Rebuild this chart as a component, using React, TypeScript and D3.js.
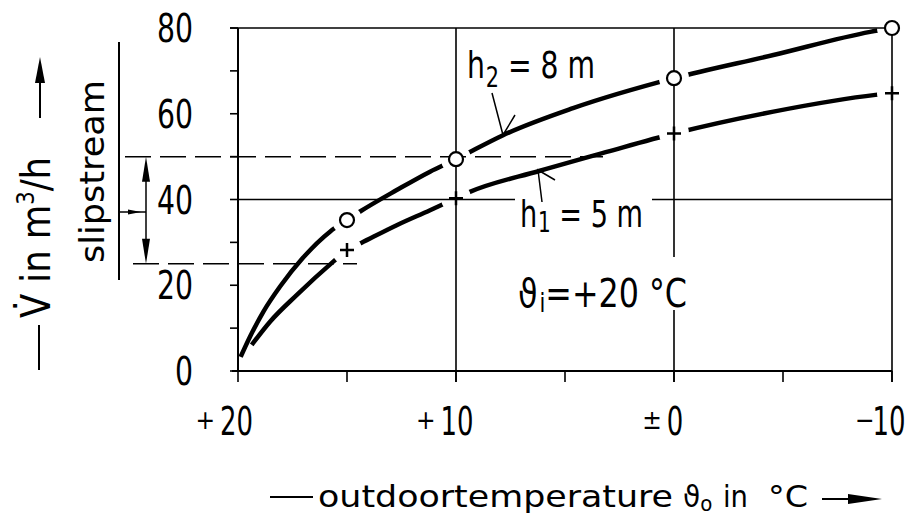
import React from "react";
import * as d3 from "d3";

// outdoor temperature (°C) against slipstream volume flow (m³/h)
const markerTemps = [15, 10, 0, -10];
const h2Markers = [35.2, 49.4, 68.3, 80];
const h1Markers = [28.2, 40.3, 55.4, 64.8];

// points
const h2Temps = [19.88, 19.45, 18.84, 18.07, 17.02, 15.78, 15, 14.4, 12.72, 11.19, 10, 9.36, 7.84, 4.63, 0, -4.56, -9.0, -10];
const h2Values = [3.3, 8.0, 13.8, 19.7, 26.4, 32.5, 35.2, 37.2, 42.2, 46.5, 49.4, 51.1, 55.0, 61.3, 68.3, 73.7, 79.1, 80];
const h1Temps = [19.37, 18.53, 17.31, 15.63, 15, 14.33, 12.72, 11.19, 10, 9.45, 6.15, 3.09, 0, -4.56, -9.24, -10];
const h1Values = [6.1, 11.5, 17.7, 25.5, 28.2, 29.9, 34.0, 37.5, 40.3, 41.6, 46.7, 51.1, 55.4, 60.5, 64.4, 64.8];

const xTicks = [20, 15, 10, 5, 0, -5, -10];
const xLabelTemps = [20, 10, 0, -10];
const xLabelSigns = ["+", "+", "±", "−"];
const xLabelNumbers = ["20", "10", "0", "10"];
const yTicks = [0, 10, 20, 30, 40, 50, 60, 70, 80];
const yLabelValues = [0, 20, 40, 60, 80];
const slipstreamRange = [25, 50];

const FONT = "'DejaVu Sans Condensed', 'DejaVu Sans', sans-serif";

export default function App() {
  const W = 910, H = 516;
  const x = d3.scaleLinear().domain([20, -10]).range([238, 892]);
  const y = d3.scaleLinear().domain([0, 80]).range([371, 28]);

  const line = d3
    .line<[number, number]>()
    .x((d) => x(d[0]))
    .y((d) => y(d[1]))
    .curve(d3.curveMonotoneX);

  const h2Path = line(h2Temps.map((t, i) => [t, h2Values[i]]));
  const h1Path = line(h1Temps.map((t, i) => [t, h1Values[i]]));

  const x0 = x(20), x1 = x(-10);
  const yTop = y(80), yBot = y(0);
  const lw = 1.6;
  const squeeze = { lengthAdjust: "spacingAndGlyphs" as const };

  // arrowhead helper (filled wedge)
  const head = (tx: number, ty: number, dir: "up" | "down" | "right", len: number, hw: number) => {
    if (dir === "up") return `M${tx},${ty} L${tx - hw},${ty + len} L${tx + hw},${ty + len} Z`;
    if (dir === "down") return `M${tx},${ty} L${tx - hw},${ty - len} L${tx + hw},${ty - len} Z`;
    return `M${tx},${ty} L${tx - len},${ty - hw} L${tx - len},${ty + hw} Z`;
  };

  const y50 = y(slipstreamRange[1]);
  const y25 = y(slipstreamRange[0]);

  // narrow figures: horizontal squeeze of the tick numbers
  const sx = 0.74;
  const numShift = [-1.5, 1, 1, -3];

  return (
    <svg
      width={W}
      height={H}
      style={{ position: "absolute", left: 0, top: 0, background: "#fff" }}
      fontFamily={FONT}
    >
      <defs>
        <mask id="m2" maskUnits="userSpaceOnUse" x={0} y={0} width={W} height={H}>
          <rect width={W} height={H} fill="#fff" />
          {markerTemps.map((t, i) => (
            <circle key={i} cx={x(t)} cy={y(h2Markers[i])} r={15} fill="#000" />
          ))}
        </mask>
        <mask id="m1" maskUnits="userSpaceOnUse" x={0} y={0} width={W} height={H}>
          <rect width={W} height={H} fill="#fff" />
          {markerTemps.map((t, i) => (
            <circle key={i} cx={x(t)} cy={y(h1Markers[i])} r={15} fill="#000" />
          ))}
        </mask>
      </defs>

      {/* curves */}
      <path d={h2Path || ""} fill="none" stroke="#000" strokeWidth={4.5} mask="url(#m2)" />
      <path d={h1Path || ""} fill="none" stroke="#000" strokeWidth={4.5} mask="url(#m1)" />

      {/* frame and grid */}
      <line x1={x0} x2={x0} y1={yTop} y2={yBot} stroke="#000" strokeWidth={2} />
      <line x1={232} x2={x1} y1={yBot} y2={yBot} stroke="#000" strokeWidth={2} />
      <line x1={230} x2={x1} y1={yTop} y2={yTop} stroke="#000" strokeWidth={lw} />
      <line x1={x1} x2={x1} y1={yTop} y2={yBot + 11} stroke="#000" strokeWidth={lw} />
      <line x1={x(10)} x2={x(10)} y1={yTop} y2={yBot + 11} stroke="#000" strokeWidth={lw} />
      <line x1={x(0)} x2={x(0)} y1={yTop} y2={257} stroke="#000" strokeWidth={lw} />
      <line x1={x(0)} x2={x(0)} y1={310} y2={yBot + 11} stroke="#000" strokeWidth={lw} />
      <line x1={x0} x2={515} y1={y(40)} y2={y(40)} stroke="#000" strokeWidth={lw} />
      <line x1={652} x2={x1} y1={y(40)} y2={y(40)} stroke="#000" strokeWidth={lw} />

      {/* ticks */}
      {xTicks.map((t) => (
        <line key={t} x1={x(t)} x2={x(t)} y1={yBot} y2={yBot + 11} stroke="#000" strokeWidth={lw} />
      ))}
      {yTicks.map((v) => (
        <line key={v} x1={230} x2={x0} y1={y(v)} y2={y(v)} stroke="#000" strokeWidth={lw} />
      ))}

      {/* tick labels */}
      {yLabelValues.map((v) => (
        <text
          key={v}
          x={193}
          y={y(v)}
          dy="0.36em"
          textAnchor="end"
          fontSize={39}
          textLength={String(v).length * 18}
          {...squeeze}
        >
          {v}
        </text>
      ))}
      {xLabelTemps.map((t, i) => {
        const cx = x(t) + numShift[i];
        const half = xLabelNumbers[i].length * 0.572 * 39 * sx * 0.5;
        return (
          <g key={t}>
            <text transform={`translate(${cx},435) scale(${sx},1)`} textAnchor="middle" fontSize={39}>
              {xLabelNumbers[i]}
            </text>
            <text x={cx - half - (i === 3 ? -2 : 5)} y={429} textAnchor="end" fontSize={26}>
              {xLabelSigns[i]}
            </text>
          </g>
        );
      })}

      {/* slipstream range */}
      <line x1={125} x2={603} y1={y50} y2={y50} stroke="#000" strokeWidth={1.5} strokeDasharray="26 9" />
      <line x1={133} x2={357} y1={y25} y2={y25} stroke="#000" strokeWidth={1.5} strokeDasharray="26 9" />
      <line x1={146} x2={146} y1={y50 + 10} y2={y25 - 10} stroke="#000" strokeWidth={1.5} />
      <path d={head(146, y50, "up", 25, 4)} fill="#000" />
      <path d={head(146, y25, "down", 25, 4)} fill="#000" />
      <line x1={119} x2={146} y1={212} y2={212} stroke="#000" strokeWidth={1.5} />
      <path d={head(141, 212, "right", 13, 2.5)} fill="#000" />
      <line x1={119} x2={119} y1={42} y2={280} stroke="#000" strokeWidth={2} />
      <text transform="translate(104,263) rotate(-90)" fontSize={34} textLength={183} {...squeeze}>
        slipstream
      </text>

      {/* y axis title */}
      <line x1={39} x2={39} y1={370} y2={325} stroke="#000" strokeWidth={2} />
      <text transform="translate(50,318) rotate(-90)" fontSize={40} textLength={161} {...squeeze}>
        {"V\u0307 in m"}
        <tspan dy={-16} fontSize={24}>3</tspan>
        <tspan dy={16}>/h</tspan>
      </text>
      <line x1={40} x2={40} y1={118} y2={80} stroke="#000" strokeWidth={2} />
      <path d={head(40, 57, "up", 26, 5)} fill="#000" />

      {/* x axis title */}
      <line x1={270} x2={313} y1={497} y2={497} stroke="#000" strokeWidth={2} />
      <text x={318} y={507} fontSize={31} textLength={355} {...squeeze}>
        outdoortemperature
      </text>
      <text x={683} y={507} fontSize={31}>
        {"\u03D1"}
        <tspan fontSize={22} dy={4}>o</tspan>
      </text>
      <text x={723} y={507} fontSize={31} textLength={25} {...squeeze}>
        in
      </text>
      <text x={768} y={507} fontSize={31} textLength={40} {...squeeze}>
        °C
      </text>
      <line x1={822} x2={850} y1={499} y2={499} stroke="#000" strokeWidth={2} />
      <path d={head(882, 499, "right", 34, 5)} fill="#000" />

      {/* curve labels */}
      <text x={467} y={78} fontSize={38} textLength={128} {...squeeze}>
        h<tspan fontSize={28} dy={9} dx={1}>2</tspan>
        <tspan dy={-9}>{" = 8 m"}</tspan>
      </text>
      <path d="M492,93 L503,135 L515,115" fill="none" stroke="#000" strokeWidth={1.5} />
      <text x={520} y={227} fontSize={38} textLength={123} {...squeeze}>
        h<tspan fontSize={28} dy={5} dx={1}>1</tspan>
        <tspan dy={-5}>{" = 5 m"}</tspan>
      </text>
      <path d="M542,202 L538,170 L555,180" fill="none" stroke="#000" strokeWidth={1.5} />
      <text x={518} y={307} fontSize={39} textLength={169} {...squeeze}>
        {"\u03D1"}
        <tspan fontSize={26} dy={5} dx={2}>i</tspan>
        <tspan dy={-5}>{"=+20 °C"}</tspan>
      </text>

      {/* markers */}
      {markerTemps.map((t, i) => (
        <circle key={"c" + t} cx={x(t)} cy={y(h2Markers[i])} r={7} fill="#fff" stroke="#000" strokeWidth={2.2} />
      ))}
      {markerTemps.map((t, i) => {
        const cx = x(t), cy = y(h1Markers[i]);
        return (
          <path key={"p" + t} d={`M${cx - 7},${cy} H${cx + 7} M${cx},${cy - 7} V${cy + 7}`} stroke="#000" strokeWidth={2.5} />
        );
      })}
    </svg>
  );
}
